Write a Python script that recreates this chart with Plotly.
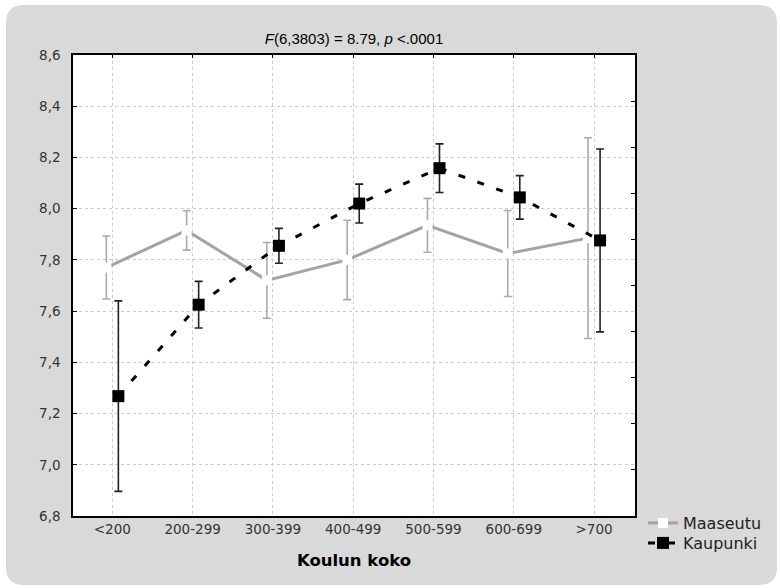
import plotly.graph_objects as go

categories = ["<200", "200-299", "300-399", "400-499", "500-599", "600-699", ">700"]
maaseutu_mean = [7.77, 7.915, 7.72, 7.80, 7.935, 7.825, 7.885]
maaseutu_err = [0.123, 0.077, 0.148, 0.155, 0.105, 0.168, 0.392]
kaupunki_mean = [7.268, 7.625, 7.855, 8.02, 8.158, 8.044, 7.876]
kaupunki_err = [0.372, 0.091, 0.068, 0.076, 0.095, 0.085, 0.357]
ytick_vals = [6.8, 7.0, 7.2, 7.4, 7.6, 7.8, 8.0, 8.2, 8.4, 8.6]
ytick_text = ["6,8", "7,0", "7,2", "7,4", "7,6", "7,8", "8,0", "8,2", "8,4", "8,6"]

W, H = 780, 588
L, R, T, B = 73, 635, 55, 516
OFF = 0.075

def px_x(p):
    return (p - L) / (R - L)

def px_y(p):
    return (B - p) / (B - T)

idx = list(range(len(categories)))
x_m = [i - OFF for i in idx]
x_k = [i + OFF for i in idx]

fig = go.Figure()
fig.add_trace(go.Scatter(
    x=x_m, y=maaseutu_mean, name="Maaseutu", mode="lines+markers", legend="legend",
    line=dict(color="#a3a3a3", width=3),
    marker=dict(symbol="square", size=10, color="white", line=dict(width=0)),
    error_y=dict(type="data", array=maaseutu_err, color="#ababab", thickness=1.6, width=4),
))
fig.add_trace(go.Scatter(
    x=x_k, y=kaupunki_mean, name="Kaupunki", mode="lines+markers", legend="legend2",
    line=dict(color="black", width=3, dash="7px,13px"),
    marker=dict(symbol="square", size=12, color="black", line=dict(width=0)),
    error_y=dict(type="data", array=kaupunki_err, color="#222222", thickness=1.6, width=4),
))
# empty trace so that the secondary (tick-only) axes get drawn
fig.add_trace(go.Scatter(x=[], y=[], xaxis="x2", yaxis="y2", showlegend=False,
                         hoverinfo="skip"))

# background panel with rounded corners
x0, x1, y0, y1, r = 6, 777, 5, 585, 18
path = (
    f"M {px_x(x0 + r)},{px_y(y0)} L {px_x(x1 - r)},{px_y(y0)} "
    f"Q {px_x(x1)},{px_y(y0)} {px_x(x1)},{px_y(y0 + r)} "
    f"L {px_x(x1)},{px_y(y1 - r)} Q {px_x(x1)},{px_y(y1)} {px_x(x1 - r)},{px_y(y1)} "
    f"L {px_x(x0 + r)},{px_y(y1)} Q {px_x(x0)},{px_y(y1)} {px_x(x0)},{px_y(y1 - r)} "
    f"L {px_x(x0)},{px_y(y0 + r)} Q {px_x(x0)},{px_y(y0)} {px_x(x0 + r)},{px_y(y0)} Z"
)
shapes = [
    dict(type="path", xref="paper", yref="paper", path=path,
         fillcolor="#d9d9d9", line=dict(width=0), layer="below"),
    dict(type="rect", xref="paper", yref="paper", x0=0, x1=1, y0=0, y1=1,
         fillcolor="white", line=dict(width=0), layer="below"),
]

tickfont = dict(family="DejaVu Sans", size=13.5, color="#333333")
legfont = dict(family="DejaVu Sans", size=16, color="#222222")
fig.update_layout(
    width=W, height=H,
    margin=dict(l=L, r=W - R, t=T, b=H - B),
    paper_bgcolor="white", plot_bgcolor="white",
    shapes=shapes,
    showlegend=True,
    legend=dict(x=px_x(643), y=px_y(523), xanchor="left", yanchor="middle",
                font=legfont, bgcolor="rgba(0,0,0,0)", itemwidth=30),
    legend2=dict(x=px_x(643), y=px_y(543), xanchor="left", yanchor="middle",
                 font=legfont, bgcolor="rgba(0,0,0,0)", itemwidth=30),
    title=dict(text="<i>F</i>(6,3803) = 8.79, <i>p</i> <.0001",
               x=(px_x(354)), xref="paper", xanchor="center",
               y=1 - 39 / H, yanchor="middle",
               font=dict(family="Liberation Sans", size=15, color="black")),
    xaxis=dict(range=[-0.49, 6.51], tickvals=idx, ticktext=categories,
               showgrid=True, gridcolor="#cccccc", griddash="dot", gridwidth=1,
               showline=True, linecolor="black", linewidth=1.5, mirror=True,
               ticks="", tickfont=tickfont, zeroline=False,
               title=dict(text="<b>Koulun koko</b>", standoff=18,
                          font=dict(family="DejaVu Sans", size=16.5, color="black"))),
    yaxis=dict(range=[6.8, 8.6], tickvals=ytick_vals, ticktext=ytick_text,
               showgrid=True, gridcolor="#cccccc", griddash="dot", gridwidth=1,
               showline=True, linecolor="black", linewidth=1.5, mirror=True,
               ticks="inside", ticklen=4, tickcolor="black", tickwidth=1,
               ticklabelstandoff=8, tickfont=tickfont, zeroline=False),
    yaxis2=dict(overlaying="y", side="right", range=[0, 10], tickvals=list(range(11)),
                ticks="inside", ticklen=4, tickcolor="black", showticklabels=False,
                showgrid=False, zeroline=False, showline=False, anchor="x2"),
    xaxis2=dict(overlaying="x", side="top", range=[-0.49, 6.51], tickvals=idx,
                ticks="inside", ticklen=3, tickcolor="black", showticklabels=False,
                showgrid=False, zeroline=False, showline=False, anchor="y2"),
)

fig.write_html("out.html")
